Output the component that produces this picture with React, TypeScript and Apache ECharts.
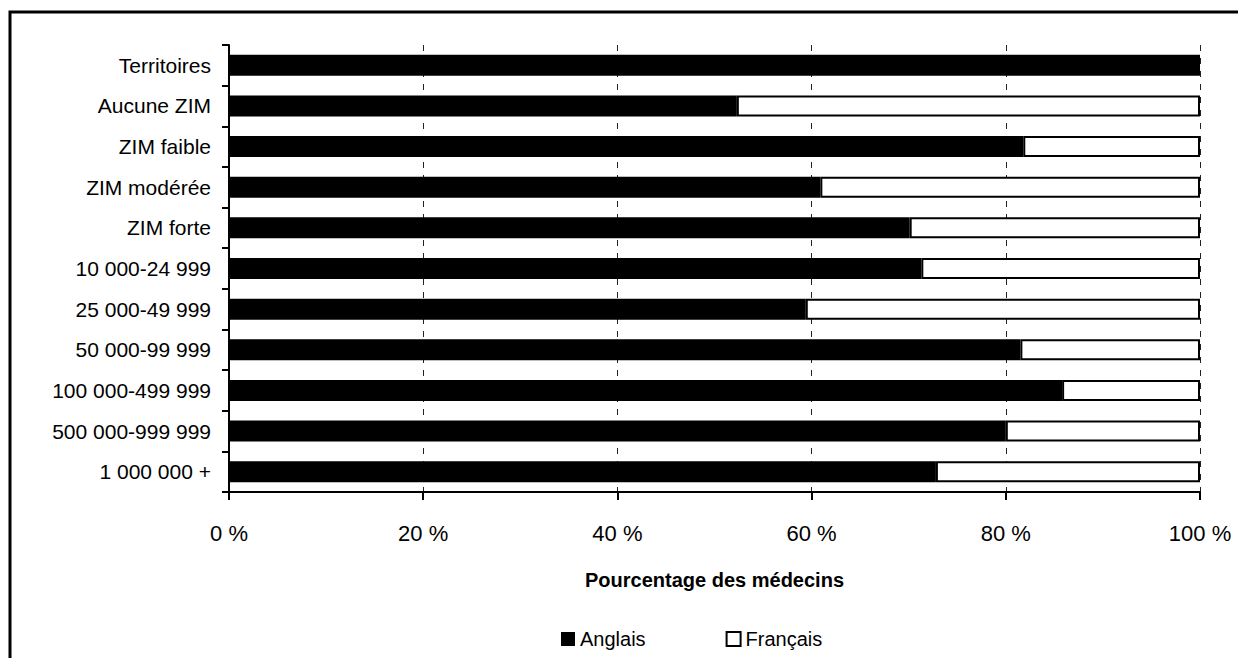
import React, { useEffect, useRef } from "react";
import * as echarts from "echarts";

// Population / zone categories, top to bottom
const categories = [
  "Territoires",
  "Aucune ZIM",
  "ZIM faible",
  "ZIM modérée",
  "ZIM forte",
  "10 000-24 999",
  "25 000-49 999",
  "50 000-99 999",
  "100 000-499 999",
  "500 000-999 999",
  "1 000 000 +",
];

// Share of physicians by language (%)
const anglais = [100, 52.3, 81.8, 60.9, 70.1, 71.3, 59.4, 81.5, 85.8, 80.0, 72.8];
const francais = [0, 47.7, 18.2, 39.1, 29.9, 28.7, 40.6, 18.5, 14.2, 20.0, 27.2];

const xTicks = [0, 20, 40, 60, 80, 100];

const FONT = "'Liberation Sans', Arial, Helvetica, sans-serif";

export default function App() {
  const ref = useRef<HTMLDivElement>(null);

  useEffect(() => {
    if (!ref.current) return;
    const chart = echarts.init(ref.current, null, { renderer: "svg" });
    chart.setOption({
      animation: false,
      backgroundColor: "#ffffff",
      textStyle: { fontFamily: FONT, color: "#000" },
      grid: { left: 229, right: 38, top: 45, bottom: 166, containLabel: false },
      graphic: [
        {
          type: "rect",
          silent: true,
          shape: { x: 10, y: 12, width: 1260, height: 700 },
          style: { fill: "none", stroke: "#000", lineWidth: 3 },
          z: 100,
        },
      ],
      legend: {
        left: 561,
        top: 629,
        padding: 0,
        itemWidth: 14,
        itemHeight: 14,
        itemGap: 80,
        textStyle: { fontFamily: FONT, fontSize: 20, color: "#000", padding: [0, 0, 0, 0] },
        data: [
          { name: "Anglais", icon: "rect", itemStyle: { color: "#000" } },
          {
            name: "Français",
            icon: "rect",
            itemStyle: { color: "#fff", borderColor: "#000", borderWidth: 2 },
          },
        ],
      },
      xAxis: {
        type: "value",
        min: 0,
        max: 100,
        interval: 20,
        name: "Pourcentage des médecins",
        nameLocation: "middle",
        nameGap: 78,
        nameTextStyle: { fontFamily: FONT, fontSize: 20, fontWeight: "bold", color: "#000" },
        axisLine: { show: true, lineStyle: { color: "#000", width: 2 } },
        axisTick: { show: true, length: 8, lineStyle: { color: "#000", width: 2 } },
        axisLabel: {
          fontFamily: FONT,
          fontSize: 22,
          color: "#000",
          margin: 30,
          formatter: (v: number) => (xTicks.includes(v) ? `${v} %` : ""),
        },
        splitLine: {
          show: true,
          lineStyle: { color: "#222", width: 1, type: [6, 7] },
        },
      },
      yAxis: {
        type: "category",
        inverse: true,
        data: categories,
        axisLine: { show: true, lineStyle: { color: "#000", width: 2 } },
        axisTick: { show: true, length: 7, lineStyle: { color: "#000", width: 2 } },
        axisLabel: { fontFamily: FONT, fontSize: 21, color: "#000", margin: 18 },
        splitLine: { show: false },
      },
      series: [
        {
          name: "Anglais",
          type: "bar",
          stack: "total",
          barWidth: 21,
          data: anglais,
          itemStyle: { color: "#000" },
        },
        {
          name: "Français",
          type: "bar",
          stack: "total",
          barWidth: 21,
          data: francais.map((v) => (v > 0 ? v : "-")),
          itemStyle: { color: "#fff", borderColor: "#000", borderWidth: 2 },
        },
      ],
    });
    return () => chart.dispose();
  }, []);

  return (
    <div
      ref={ref}
      style={{ position: "absolute", left: 0, top: 0, width: 1238, height: 658 }}
    />
  );
}
